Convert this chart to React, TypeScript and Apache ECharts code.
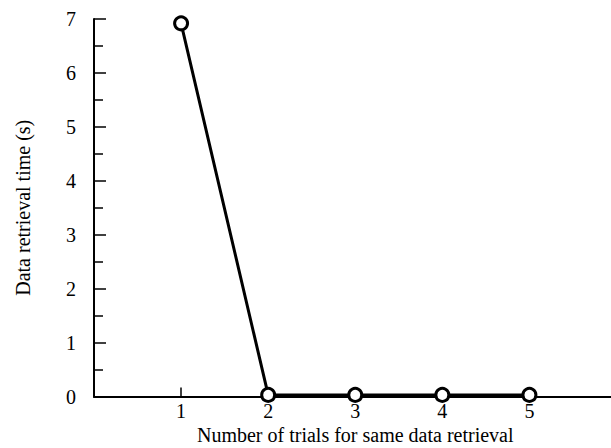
import React, { useEffect, useRef } from "react";
import * as echarts from "echarts";

const trials = [1, 2, 3, 4, 5];
const retrievalTime = [6.92, 0.03, 0.03, 0.03, 0.03];
const xTickLabels = ["1", "2", "3", "4", "5"];
const xAxisTitle = "Number of trials for same data retrieval";
const yAxisTitle = "Data retrieval time (s)";

export default function App() {
  const ref = useRef<HTMLDivElement>(null);
  useEffect(() => {
    if (!ref.current) return;
    const chart = echarts.init(ref.current, null, { renderer: "svg" });
    const font = "'Liberation Serif', 'Times New Roman', serif";
    chart.setOption({
      animation: false,
      backgroundColor: "#ffffff",
      textStyle: { fontFamily: font, color: "#000" },
      grid: {
        left: 94,
        top: 19,
        bottom: 51.5,
        right: -5.5,
        containLabel: false,
        outerBoundsMode: "none",
      },
      xAxis: [
        {
          type: "value",
          min: 0,
          max: 6,
          interval: 1,
          name: xAxisTitle,
          nameLocation: "middle",
          nameGap: 30,
          nameMoveOverlap: false,
          nameTextStyle: { fontFamily: font, fontSize: 20, lineHeight: 16, color: "#000" },
          axisLine: { show: true, onZero: false, lineStyle: { color: "#000", width: 1.5 } },
          axisTick: { show: true, inside: true, length: 9, lineStyle: { color: "#000", width: 1.5 } },
          axisLabel: {
            fontFamily: font,
            fontSize: 20,
            lineHeight: 14,
            color: "#000",
            margin: 7.5,
            formatter: (v: number) => (xTickLabels.includes(String(v)) ? String(v) : ""),
          },
          splitLine: { show: false },
        },
        {
          type: "value",
          position: "top",
          min: 0,
          max: 6,
          axisLine: { show: true, lineStyle: { color: "#000", width: 2 } },
          axisTick: { show: false },
          axisLabel: { show: false },
          splitLine: { show: false },
        },
      ],
      yAxis: {
        type: "value",
        min: 0,
        max: 7,
        interval: 1,
        name: yAxisTitle,
        nameLocation: "middle",
        nameGap: 61,
        nameMoveOverlap: false,
        nameTextStyle: { fontFamily: font, fontSize: 20, color: "#000" },
        axisLine: { show: true, lineStyle: { color: "#000", width: 2 } },
        axisTick: { show: true, inside: true, length: 12, lineStyle: { color: "#000", width: 1.5 } },
        minorTick: { show: true, splitNumber: 2, length: 9, lineStyle: { color: "#000", width: 1.5 } },
        axisLabel: { fontFamily: font, fontSize: 20, color: "#000", margin: 18 },
        splitLine: { show: false },
      },
      series: [
        {
          type: "line",
          data: trials.map((t, i) => [t, retrievalTime[i]]),
          symbol: "circle",
          symbolSize: 13,
          showSymbol: true,
          itemStyle: { color: "#ffffff", borderColor: "#000", borderWidth: 3 },
          lineStyle: { color: "#000", width: 3 },
          z: 5,
        },
      ],
    });
    return () => chart.dispose();
  }, []);
  return <div ref={ref} style={{ width: 611, height: 448, position: "absolute", left: 0, top: 0 }} />;
}
